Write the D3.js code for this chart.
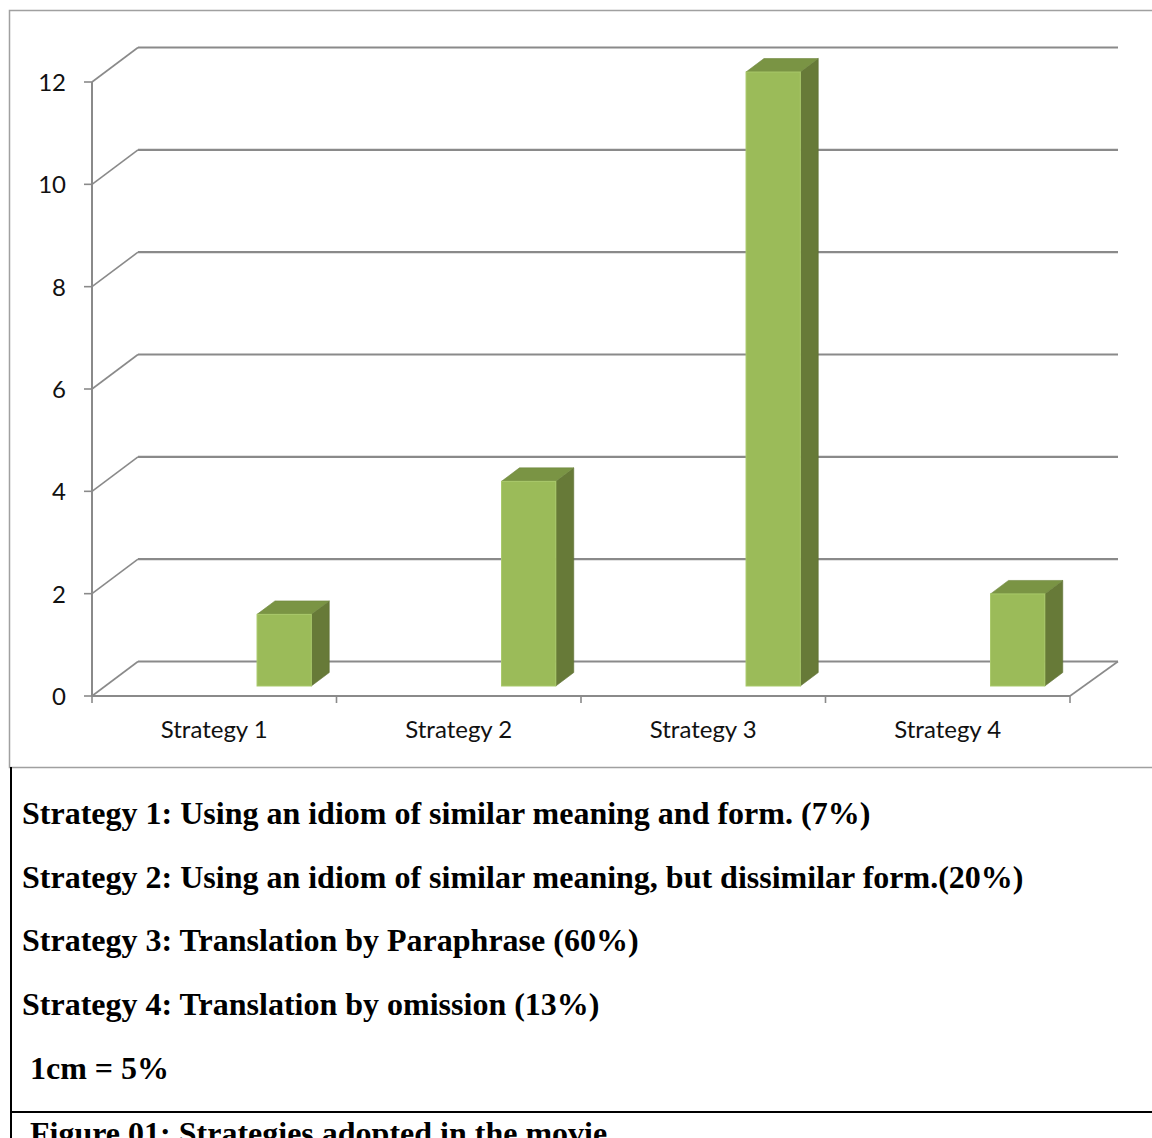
<!DOCTYPE html>
<html>
<head>
<meta charset="utf-8">
<script src="https://cdn.jsdelivr.net/npm/d3@7"></script>
<style>
  html, body { margin: 0; padding: 0; background: #fff; }
  svg { display: block; }
</style>
</head>
<body>
<svg id="chart" width="1152" height="1138"></svg>
<script>
// Counts of idiom translation strategies
const categories = ["Strategy 1", "Strategy 2", "Strategy 3", "Strategy 4"];
const counts = [1.4, 4, 12, 1.8];
const yTicks = [0, 2, 4, 6, 8, 10, 12];

// Legend / notes under the chart
const notes = [
  "Strategy 1: Using an idiom of similar meaning and form. (7%)",
  "Strategy 2: Using an idiom of similar meaning, but dissimilar form.(20%)",
  "Strategy 3: Translation by Paraphrase (60%)",
  "Strategy 4: Translation by omission (13%)"
];
const scaleNote = "1cm = 5%";
const caption = "Figure 01: Strategies adopted in the movie";

const svg = d3.select("#chart");

// Plot geometry (pseudo-3D column chart)
const floorLeft = 92, floorRight = 1070;
const y0 = 696, yTop = 82;
const depth = { dx: 46, dy: -34.5 };      // wall depth
const barFront = 0.29, barBack = 0.68;    // bar depth range as a fraction of wall depth

const x = d3.scaleBand().domain(categories).range([floorLeft, floorRight]).padding(0);
const y = d3.scaleLinear().domain([0, 12]).range([y0, yTop]);

const gridColor = "#8a8a8a";

// Outer chart frame
svg.append("path")
  .attr("d", "M1153,10.5 H9.5 V767.5 H1153")
  .attr("fill", "none").attr("stroke", "#a0a0a0").attr("stroke-width", 1.5);

const plot = svg.append("g");

// Back-wall gridlines and side-wall diagonals
yTicks.forEach(v => {
  const yf = y(v), yb = y(v) + depth.dy;
  plot.append("line")
    .attr("x1", floorLeft + depth.dx).attr("x2", floorRight + 48)
    .attr("y1", yb).attr("y2", yb)
    .attr("stroke", gridColor).attr("stroke-width", 2.2);
  plot.append("line")
    .attr("x1", floorLeft).attr("y1", yf)
    .attr("x2", floorLeft + depth.dx).attr("y2", yb)
    .attr("stroke", gridColor).attr("stroke-width", 1.6);
});

// Floor front edge and right edge
plot.append("line")
  .attr("x1", floorLeft).attr("x2", floorRight)
  .attr("y1", y0).attr("y2", y0)
  .attr("stroke", gridColor).attr("stroke-width", 2);
plot.append("line")
  .attr("x1", floorRight).attr("y1", y0)
  .attr("x2", floorRight + 48).attr("y2", y0 + depth.dy)
  .attr("stroke", gridColor).attr("stroke-width", 1.6);

// Category tick marks
const catEdges = categories.map(c => x(c)).concat([floorRight]);
plot.selectAll(".xtick").data(catEdges).enter().append("line")
  .attr("x1", d => d).attr("x2", d => d)
  .attr("y1", y0).attr("y2", y0 + 7)
  .attr("stroke", gridColor).attr("stroke-width", 1.6);

// Value axis line and ticks
plot.append("line")
  .attr("x1", floorLeft).attr("x2", floorLeft)
  .attr("y1", y(12)).attr("y2", y0)
  .attr("stroke", gridColor).attr("stroke-width", 2);
plot.selectAll(".ytick").data(yTicks).enter().append("line")
  .attr("x1", floorLeft - 8).attr("x2", floorLeft)
  .attr("y1", d => y(d)).attr("y2", d => y(d))
  .attr("stroke", gridColor).attr("stroke-width", 1.6);

// Value axis labels
plot.selectAll(".ylab").data(yTicks).enter().append("text")
  .attr("x", 66).attr("y", d => y(d) + 3)
  .attr("text-anchor", "end").attr("dominant-baseline", "middle")
  .attr("font-family", "Lato, 'Open Sans', sans-serif")
  .attr("font-size", 24).attr("fill", "#111")
  .text(d => d);

// Category labels
plot.selectAll(".xlab").data(categories).enter().append("text")
  .attr("x", d => x(d) + x.bandwidth() / 2)
  .attr("y", 738)
  .attr("text-anchor", "middle")
  .attr("font-family", "Lato, 'Open Sans', sans-serif")
  .attr("font-size", 24).attr("fill", "#111")
  .text(d => d);

// Columns: front face, side face, top face
const bw = x.bandwidth();
const barW = 0.222 * bw;
const fdx = depth.dx * barFront, fdy = depth.dy * barFront;
const sdx = depth.dx * (barBack - barFront), sdy = depth.dy * (barBack - barFront);

const bars = plot.selectAll(".bar").data(categories.map((c, i) => ({ c, v: counts[i] })))
  .enter().append("g");

bars.each(function(d) {
  const g = d3.select(this);
  const xl = x(d.c) + 0.675 * bw;
  const xr = xl + barW;
  const yb = y(0) + fdy;
  const yt = y(d.v) + fdy;
  // side
  g.append("polygon")
    .attr("points", [[xr, yt], [xr + sdx, yt + sdy], [xr + sdx, yb + sdy], [xr, yb]].join(" "))
    .attr("fill", "#677a38").attr("stroke", "#5f7134").attr("stroke-width", 0.6);
  // top
  g.append("polygon")
    .attr("points", [[xl, yt], [xl + sdx, yt + sdy], [xr + sdx, yt + sdy], [xr, yt]].join(" "))
    .attr("fill", "#7a9444").attr("stroke", "#6f873e").attr("stroke-width", 0.6);
  // front
  g.append("rect")
    .attr("x", xl).attr("y", yt)
    .attr("width", barW).attr("height", yb - yt)
    .attr("fill", "#9bbb59").attr("stroke", "#a9c96a").attr("stroke-width", 1);
});

// Notes box below the chart
svg.append("line")
  .attr("x1", 11).attr("x2", 11).attr("y1", 767).attr("y2", 1138)
  .attr("stroke", "#000").attr("stroke-width", 2);
svg.append("line")
  .attr("x1", 10).attr("x2", 1152).attr("y1", 1112).attr("y2", 1112)
  .attr("stroke", "#000").attr("stroke-width", 2);

const serif = "'Liberation Serif', 'Times New Roman', serif";
const noteY = [824, 888, 951, 1015];
svg.selectAll(".note").data(notes).enter().append("text")
  .attr("x", 22).attr("y", (d, i) => noteY[i])
  .attr("font-family", serif).attr("font-weight", "bold")
  .attr("font-size", 32).attr("fill", "#000")
  .text(d => d);

svg.append("text")
  .attr("x", 30).attr("y", 1079)
  .attr("font-family", serif).attr("font-weight", "bold")
  .attr("font-size", 32).attr("fill", "#000")
  .text(scaleNote);

// Caption row, continuing past the bottom edge of the page
svg.append("text")
  .attr("x", 30).attr("y", 1144)
  .attr("font-family", serif).attr("font-weight", "bold")
  .attr("font-size", 32).attr("fill", "#000")
  .text(caption);
</script>
</body>
</html>
